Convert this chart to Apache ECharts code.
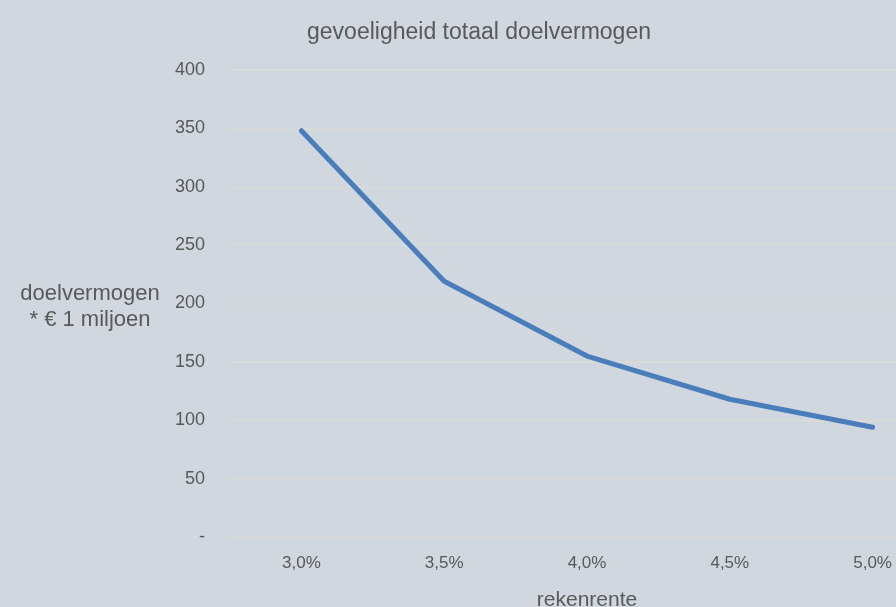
<!DOCTYPE html>
<html>
<head>
<meta charset="utf-8">
<script src="https://cdn.jsdelivr.net/npm/echarts@6/dist/echarts.min.js"></script>
<style>
html,body{margin:0;padding:0;background:#d0d7df;}
#c{width:896px;height:607px;}
</style>
</head>
<body>
<div id="c"></div>
<script>
const categories = ['3,0%', '3,5%', '4,0%', '4,5%', '5,0%'];
const values = [348, 219, 155, 118, 94];
const chartTitle = 'gevoeligheid totaal doelvermogen';
const yName = 'doelvermogen\n* € 1 miljoen';
const xName = 'rekenrente';

const font = 'Liberation Sans, Arial, sans-serif';
const textColor = '#595959';
const chart = echarts.init(document.getElementById('c'));
chart.setOption({
  backgroundColor: '#d0d7df',
  animation: false,
  title: [
    { text: chartTitle, left: 474, top: 16, textAlign: 'center',
      textStyle: { fontFamily: font, fontSize: 23, fontWeight: 'normal', color: textColor } },
    { text: yName, left: 85, top: 276, textAlign: 'center',
      textStyle: { fontFamily: font, fontSize: 22, fontWeight: 'normal', color: textColor, lineHeight: 26, align: 'center' } },
    { text: xName, left: 582, top: 585, textAlign: 'center',
      textStyle: { fontFamily: font, fontSize: 21, fontWeight: 'normal', color: textColor } }
  ],
  grid: { left: 230, width: 714, top: 70, height: 467, containLabel: false, outerBoundsMode: 'none' },
  xAxis: {
    type: 'category',
    data: categories,
    boundaryGap: true,
    axisLine: { show: false },
    axisTick: { show: false },
    axisLabel: { fontFamily: font, fontSize: 17, color: textColor, margin: 18 }
  },
  yAxis: {
    type: 'value',
    min: 0, max: 400, interval: 50,
    axisLine: { show: false },
    axisTick: { show: false },
    axisLabel: { fontFamily: font, fontSize: 18, color: textColor, margin: 25,
      formatter: v => v === 0 ? '-' : String(v) },
    splitLine: { lineStyle: { color: '#dcdcd8', width: 1.5 } }
  },
  series: [{
    type: 'line',
    data: values,
    symbol: 'none',
    clip: false,
    lineStyle: { color: '#4a7ebb', width: 5, cap: 'round', join: 'round' }
  }]
});
</script>
</body>
</html>
